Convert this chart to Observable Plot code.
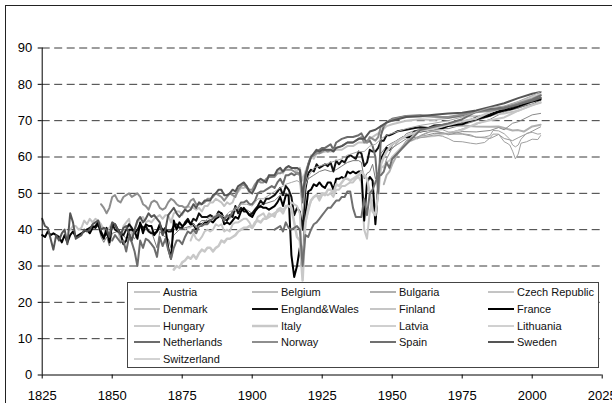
<!DOCTYPE html>
<html>
<head>
<meta charset="utf-8">
<script src="https://cdn.jsdelivr.net/npm/d3@7"></script>
<script src="https://cdn.jsdelivr.net/npm/@observablehq/plot@0.6"></script>
<style>
  html, body { margin: 0; padding: 0; background: #fff; }
  body { width: 612px; height: 403px; overflow: hidden; position: relative; font-family: "Liberation Sans", Arial, sans-serif; }
  #chart { position: absolute; left: 0; top: 0; }
  #frame { position: absolute; left: 5px; top: 5px; width: 700px; height: 500px; border: 1px solid #222; pointer-events: none; }
  #legend { position: absolute; left: 127px; top: 282px; width: 472px; height: 86px; box-sizing: border-box; border: 1px solid #444; background: #fff; }
  .entry { position: absolute; height: 16px; display: flex; align-items: center; font-size: 11px; color: #111; white-space: nowrap; }
  .entry svg { display: block; margin-right: 3px; }
</style>
</head>
<body>
<div id="chart"></div>
<div id="frame"></div>
<div id="legend"></div>
<script>
// ---- data: male period life expectancy (years) ----
const countries = ["Austria","Belgium","Bulgaria","Czech Republic","Denmark","England&Wales","Finland","France","Hungary","Italy","Latvia","Lithuania","Netherlands","Norway","Spain","Sweden","Switzerland"];

const austria = [[1947,57],[1948,59.5],[1949,61],[1950,62.5],[1952,63.5],[1955,65],[1960,65.6],[1965,66.5],[1970,66.5],[1975,67.7],[1980,69],[1985,70.4],[1990,72.4],[1995,73.4],[2000,75.1],[2003,75.9]];

const belgium = [[1841,40],[1843,40.5],[1845,41],[1846,38],[1847,36.5],[1848,38],[1849,35.5],[1850,39],[1852,39.5],[1854,38.5],[1855,37.5],[1856,39],[1858,37.5],[1860,40.5],[1862,40],[1864,39.5],[1866,35],[1867,39.5],[1868,38.5],[1870,37.5],[1871,35],[1872,38.5],[1874,40],[1876,40.5],[1878,41],[1880,41],[1882,42.5],[1884,42.5],[1886,43],[1888,44],[1890,42.5],[1892,43],[1894,45],[1896,46],[1898,45.5],[1900,44.5],[1902,46.5],[1904,47],[1906,47.5],[1908,48],[1910,49.5],[1912,49.5],[1913,50],[1914,null],[1919,52],[1920,54],[1922,55],[1924,56],[1926,56.5],[1928,56],[1930,56.5],[1932,57.5],[1934,58.5],[1936,59],[1938,59],[1939,58.5],[1940,54],[1941,55.5],[1942,56],[1943,58],[1944,54],[1945,56],[1946,61],[1948,63],[1950,63.9],[1955,65.5],[1960,67.5],[1965,67.8],[1970,67.8],[1975,68.8],[1980,70],[1985,71.2],[1990,72.7],[1995,73.5],[2000,74.6],[2003,75.6]];

const bulgaria = [[1947,52.5],[1948,55],[1949,56],[1950,58],[1952,61],[1955,64],[1957,66],[1960,67.8],[1963,68],[1965,68.8],[1968,68.7],[1970,68.6],[1975,68.7],[1980,68.4],[1985,68.3],[1988,68.4],[1990,68],[1993,67.3],[1995,67.4],[1997,67],[2000,68.4],[2003,68.9]];

const czech = [[1950,62.3],[1952,64],[1955,66.4],[1957,67],[1960,67.6],[1963,67.5],[1965,67.2],[1968,66.6],[1970,66.1],[1975,67],[1980,66.9],[1985,67.3],[1988,68.1],[1990,67.5],[1993,69.3],[1995,69.7],[2000,71.6],[2003,72]];

const denmark = [[1835,40],[1836,41],[1837,41],[1838,40],[1839,40.5],[1840,42.5],[1841,41.5],[1842,43],[1843,42],[1844,43],[1845,42.5],[1846,41.5],[1847,40],[1848,40],[1849,40.5],[1850,42],[1851,41],[1852,40],[1853,37],[1854,41],[1855,42],[1856,43],[1857,38.5],[1858,40],[1859,42],[1860,43],[1861,43.5],[1862,42],[1863,42.5],[1864,42],[1865,43],[1866,43.5],[1867,44],[1868,43],[1869,44],[1870,44],[1871,42],[1872,44.5],[1873,45],[1874,45],[1875,44],[1876,45.5],[1877,46.5],[1878,46],[1879,46],[1880,45.5],[1881,46],[1882,45],[1883,46.5],[1884,46.5],[1885,47.5],[1886,47.5],[1887,48.5],[1888,48],[1889,47.5],[1890,46.5],[1891,47.5],[1892,47],[1893,47.5],[1894,49.5],[1895,50.5],[1896,51.5],[1897,51.5],[1898,52],[1899,50],[1900,50.5],[1901,52],[1902,53],[1903,54],[1904,53.5],[1905,53.5],[1906,55],[1907,54.5],[1908,55],[1909,56],[1910,56.5],[1911,55.5],[1912,57],[1913,57.5],[1914,57],[1915,57],[1916,56],[1917,57],[1918,53.5],[1919,56],[1920,58],[1921,60.5],[1922,59.5],[1923,61],[1924,61],[1926,61.5],[1928,61.5],[1930,62],[1932,62],[1934,63],[1936,63],[1938,64],[1940,64],[1942,65],[1944,66],[1946,67],[1948,68.5],[1950,69],[1955,70],[1960,70.4],[1965,70.2],[1970,70.8],[1975,71.2],[1980,71.2],[1985,71.6],[1990,72],[1995,72.7],[2000,74.3],[2003,74.9]];

const englandWales = [[1841,40],[1842,40.5],[1843,41],[1844,40.5],[1845,41.5],[1846,39.5],[1847,38],[1848,39],[1849,37.5],[1850,41.5],[1851,40],[1852,39.5],[1853,39],[1854,38.5],[1855,40],[1856,41.5],[1857,40.5],[1858,39],[1859,40],[1860,41.5],[1861,40.5],[1862,41],[1863,39.5],[1864,39],[1865,39],[1866,39.5],[1867,41],[1868,40],[1869,40],[1870,39.5],[1871,39.5],[1872,41],[1873,41.5],[1874,40.5],[1875,40.5],[1876,42],[1877,43],[1878,41.5],[1879,43],[1880,42.5],[1881,44.5],[1882,43.5],[1883,43.5],[1884,43.5],[1885,44],[1886,43.5],[1887,43.5],[1888,45],[1889,44.5],[1890,43],[1891,42.5],[1892,44],[1893,43.5],[1894,46.5],[1895,44.5],[1896,46],[1897,45],[1898,45],[1899,44],[1900,44.5],[1901,45.5],[1902,46.5],[1903,48],[1904,47],[1905,48.5],[1906,48.5],[1907,49],[1908,49.5],[1909,50.5],[1910,51.5],[1911,49.5],[1912,52],[1913,51],[1914,49],[1915,44],[1916,46],[1917,45],[1918,40],[1919,51],[1920,55.5],[1921,56.5],[1922,56],[1923,58],[1924,57],[1925,57.5],[1926,58],[1927,57.5],[1928,58.5],[1929,56],[1930,59],[1931,58],[1932,59],[1933,58.5],[1934,60],[1935,60.5],[1936,60],[1937,59.5],[1938,61.5],[1939,61],[1940,57.5],[1941,58.5],[1942,62],[1943,61.5],[1944,61.5],[1945,62.5],[1946,64.5],[1947,64.5],[1948,66],[1949,66],[1950,66.3],[1952,67.1],[1955,67.5],[1958,68],[1960,68.2],[1963,68],[1965,68.6],[1968,68.8],[1970,69],[1973,69.3],[1975,69.7],[1978,70.2],[1980,70.8],[1983,71.5],[1985,71.8],[1988,72.6],[1990,73.1],[1993,73.8],[1995,74.2],[1998,74.9],[2000,75.5],[2003,76.2]];

const finland = [[1878,37],[1879,39],[1880,37.5],[1881,37],[1882,38],[1883,39.5],[1884,40],[1885,39.5],[1886,40],[1887,41.5],[1888,41],[1889,41.5],[1890,39.5],[1891,40],[1892,39.5],[1893,41.5],[1894,42],[1895,42],[1896,42.5],[1897,43],[1898,43],[1899,42],[1900,40.5],[1901,41.5],[1902,43.5],[1903,44],[1904,44.5],[1905,43],[1906,44.5],[1907,44],[1908,43.5],[1909,45.5],[1910,46],[1911,45.5],[1912,46],[1913,47],[1914,47.5],[1915,47],[1916,46.5],[1917,44.5],[1918,31],[1919,42],[1920,45],[1921,48],[1922,49],[1923,49.5],[1924,48],[1925,49.5],[1926,50],[1927,49.5],[1928,50],[1929,49],[1930,51],[1931,51],[1932,52],[1933,52],[1934,52.5],[1935,53],[1936,53],[1937,54],[1938,54.5],[1939,53],[1940,40],[1941,37.5],[1942,45],[1943,48],[1944,43],[1945,53],[1946,57],[1947,57.5],[1948,58.5],[1949,59],[1950,60],[1955,64],[1960,65.5],[1965,65.8],[1970,66.5],[1975,67.5],[1980,69.2],[1985,70.1],[1990,70.9],[1995,72.8],[2000,74.2],[2003,75.1]];

const france = [[1825,38.5],[1826,38],[1827,39.5],[1828,38.5],[1829,39],[1830,38.5],[1831,38],[1832,36.5],[1833,38.5],[1834,36.5],[1835,38.5],[1836,39.5],[1837,38],[1838,38.5],[1839,39],[1840,39.5],[1841,40],[1842,39],[1843,40.5],[1844,41],[1845,42],[1846,39],[1847,37.5],[1848,40.5],[1849,36.5],[1850,41.5],[1851,41.5],[1852,40],[1853,39],[1854,36],[1855,37],[1856,40],[1857,40],[1858,39.5],[1859,37.5],[1860,42],[1861,39],[1862,41.5],[1863,41],[1864,41],[1865,38.5],[1866,39.5],[1867,41.5],[1868,39.5],[1869,40.5],[1870,35],[1871,32],[1872,42.5],[1873,40],[1874,42],[1875,41],[1876,41.5],[1877,42.5],[1878,41.5],[1879,41.5],[1880,40],[1881,41.5],[1882,41.5],[1883,42],[1884,42],[1885,42.5],[1886,42],[1887,43],[1888,43.5],[1889,44.5],[1890,41.5],[1891,42],[1892,41.5],[1893,42.5],[1894,43.5],[1895,43],[1896,45],[1897,46],[1898,45],[1899,44],[1900,43.5],[1901,45],[1902,46],[1903,46.5],[1904,46],[1905,46],[1906,45.5],[1907,46],[1908,46.5],[1909,47.5],[1910,49],[1911,46.5],[1912,49.5],[1913,49.5],[1914,33],[1915,27],[1916,30],[1917,35],[1918,28],[1919,44],[1920,50.5],[1921,51],[1922,52.5],[1923,52],[1924,53],[1925,52],[1926,51.5],[1927,53],[1928,53],[1929,51],[1930,54],[1931,54],[1932,54.5],[1933,54],[1934,56],[1935,55.5],[1936,56],[1937,55.5],[1938,56],[1939,56],[1940,42.5],[1941,53],[1942,54.5],[1943,53.5],[1944,41.5],[1945,52],[1946,59.5],[1947,61],[1948,62.5],[1949,62],[1950,63.5],[1952,64.5],[1954,65.5],[1956,65.5],[1958,67],[1960,67],[1962,67.3],[1965,67.8],[1968,68],[1970,68.5],[1972,68.8],[1975,69],[1978,70],[1980,70.4],[1983,71],[1985,71.4],[1988,72.4],[1990,72.8],[1993,73.3],[1995,73.9],[1998,74.8],[2000,75.3],[2003,75.8]];

const hungary = [[1950,59.3],[1952,61],[1955,64.5],[1957,64.5],[1960,65.9],[1963,66.9],[1965,67],[1968,66.7],[1970,66.3],[1975,66.3],[1980,65.5],[1985,65.1],[1988,66.2],[1990,65.1],[1993,64.5],[1995,65.3],[2000,67.1],[2003,68.3]];

const italy = [[1872,29],[1873,30],[1874,29.5],[1875,31],[1876,31.5],[1877,32.5],[1878,32],[1879,33],[1880,32],[1881,33.5],[1882,34.5],[1883,34],[1884,35],[1885,35],[1886,34],[1887,35],[1888,35.5],[1889,37],[1890,36.5],[1891,37.5],[1892,37.5],[1893,38],[1894,38.5],[1895,39.5],[1896,40],[1897,40.5],[1898,40.5],[1899,41],[1900,40.5],[1901,42],[1902,42.5],[1903,42],[1904,43],[1905,43],[1906,43.5],[1907,44],[1908,44.5],[1909,45],[1910,45.5],[1911,44.5],[1912,46.5],[1913,46.5],[1914,46],[1915,42],[1916,38],[1917,37],[1918,26],[1919,42],[1920,46],[1921,48],[1922,49],[1923,49.5],[1924,49],[1925,50],[1926,49.5],[1927,51],[1928,51],[1929,50],[1930,52.5],[1931,52],[1932,53],[1933,54],[1934,54],[1935,53.5],[1936,54],[1937,54.5],[1938,55],[1939,56],[1940,55],[1941,54],[1942,50],[1943,45],[1944,44],[1945,50],[1946,58],[1947,60],[1948,61.5],[1949,62.5],[1950,63.5],[1955,65.8],[1960,67.2],[1965,67.8],[1970,68.9],[1975,69.8],[1980,70.6],[1985,72.4],[1990,73.8],[1995,74.9],[2000,76.5],[2003,77.2]];

const latvia = [[1959,65.2],[1960,65.3],[1962,65.5],[1965,66.1],[1968,65.7],[1970,65.1],[1972,64.3],[1975,64.2],[1978,63.8],[1980,63.6],[1983,64],[1985,65.3],[1986,66.3],[1988,66.3],[1990,64.2],[1991,63.8],[1992,63.3],[1993,61.6],[1994,59.5],[1995,60.8],[1996,63.8],[1998,64.2],[2000,64.9],[2002,64.8],[2003,65.9]];

const lithuania = [[1959,65],[1960,65.7],[1962,66.4],[1965,67.4],[1968,67.5],[1970,66.9],[1972,66.8],[1975,66.4],[1978,66.1],[1980,65.4],[1983,65.5],[1985,65.9],[1986,67.3],[1988,67.2],[1990,66.4],[1992,64.9],[1993,63.3],[1994,62.8],[1995,63.3],[1996,64.9],[1998,66.5],[2000,66.8],[2002,66.3],[2003,66.4]];

const netherlands = [[1850,37],[1851,38.5],[1852,37.5],[1853,36.5],[1854,37],[1855,34],[1856,38],[1857,36.5],[1858,34],[1859,30],[1860,37],[1861,35],[1862,37.5],[1863,37],[1864,36],[1865,35],[1866,32.5],[1867,38],[1868,35.5],[1869,37.5],[1870,34.5],[1871,32],[1872,35],[1873,37],[1874,37],[1875,36],[1876,38],[1877,39.5],[1878,39],[1879,40],[1880,39],[1881,41],[1882,41],[1883,41.5],[1884,41.5],[1885,42.5],[1886,43],[1887,43.5],[1888,44],[1889,43.5],[1890,42.5],[1891,44],[1892,43.5],[1893,45],[1894,46],[1895,46],[1896,47.5],[1897,47.5],[1898,48],[1899,47],[1900,47],[1901,48],[1902,50],[1903,50.5],[1904,50.5],[1905,51],[1906,51.5],[1907,52],[1908,51.5],[1909,53],[1910,54],[1911,52.5],[1912,55],[1913,55],[1914,55.5],[1915,55],[1916,55.5],[1917,55.5],[1918,47.5],[1919,54],[1920,58],[1921,60],[1922,60.5],[1923,61.5],[1924,62],[1925,62.5],[1926,62.5],[1927,63],[1928,63.5],[1929,62],[1930,64],[1932,65],[1934,65.5],[1936,65.5],[1938,66],[1939,66.5],[1940,65],[1941,64],[1942,64.5],[1943,63],[1944,60],[1945,50],[1946,66],[1947,68.5],[1948,69.5],[1949,70],[1950,70.5],[1955,71.3],[1960,71.5],[1965,71.2],[1970,70.8],[1975,71.5],[1980,72.6],[1985,73.1],[1990,73.8],[1995,74.5],[2000,75.5],[2003,76.3]];

const norway = [[1846,47],[1847,46],[1848,44.5],[1849,46],[1850,49],[1851,49.5],[1852,48],[1853,47.5],[1854,49],[1855,49.5],[1856,50],[1857,49],[1858,49.5],[1859,50],[1860,49],[1861,47],[1862,46.5],[1863,45.5],[1864,47.5],[1865,48],[1866,47.5],[1867,46],[1868,45.5],[1869,46],[1870,47.5],[1871,48.5],[1872,48],[1873,47],[1874,46.5],[1875,46.5],[1876,46],[1877,46.5],[1878,48],[1879,48.5],[1880,47],[1881,47],[1882,47],[1883,47.5],[1884,48.5],[1885,48.5],[1886,49],[1887,50],[1888,49.5],[1889,49],[1890,48],[1891,49],[1892,50],[1893,49.5],[1894,49],[1895,51],[1896,52],[1897,52.5],[1898,51.5],[1899,51],[1900,51],[1901,52.5],[1902,53.5],[1903,53],[1904,53],[1905,54],[1906,54.5],[1907,54.5],[1908,54.5],[1909,55.5],[1910,55.5],[1911,56],[1912,56.5],[1913,56.5],[1914,56.5],[1915,56],[1916,55.5],[1917,55],[1918,50],[1919,54.5],[1920,58],[1921,60],[1922,60.5],[1923,61],[1924,61],[1925,61.5],[1926,62],[1927,61.5],[1928,62],[1929,62],[1930,62.5],[1932,63],[1934,64],[1936,64],[1938,65],[1939,65.5],[1940,64],[1941,64],[1942,65.5],[1943,65],[1944,64.5],[1945,65.5],[1946,68.5],[1947,68.5],[1948,69.5],[1949,70],[1950,70.3],[1955,71.2],[1960,71.3],[1965,71.1],[1970,71],[1975,71.7],[1980,72.3],[1985,72.7],[1990,73.4],[1995,74.8],[2000,76],[2003,77]];

const spain = [[1908,40],[1909,40.5],[1910,41],[1911,39.5],[1912,42],[1913,40.5],[1914,40],[1915,40.5],[1916,41],[1917,40],[1918,30],[1919,38.5],[1920,38],[1921,40],[1922,41.5],[1923,42],[1924,43],[1925,44],[1926,45],[1927,46],[1928,46],[1929,47],[1930,48],[1931,48],[1932,49],[1933,49],[1934,50.5],[1935,50.5],[1936,46],[1937,43.5],[1938,43.5],[1939,43.5],[1940,48.5],[1941,44],[1942,50],[1943,51],[1944,53],[1945,55],[1946,55],[1947,56],[1948,58.5],[1949,57],[1950,59.5],[1955,63.5],[1960,67.4],[1965,68.3],[1970,69.2],[1975,70.4],[1980,72.5],[1985,73.2],[1990,73.4],[1995,74.4],[2000,75.8],[2003,76.9]];

const sweden = [[1825,43],[1826,41],[1827,40.5],[1828,37.5],[1829,34.5],[1830,38.5],[1831,37],[1832,39],[1833,40],[1834,36],[1835,44.5],[1836,42],[1837,37.5],[1838,38],[1839,38.5],[1840,40],[1841,39.5],[1842,40],[1843,41.5],[1844,42],[1845,42.5],[1846,40],[1847,40.5],[1848,40],[1849,38],[1850,42],[1851,41.5],[1852,40],[1853,38.5],[1854,40.5],[1855,41],[1856,39],[1857,37],[1858,40],[1859,42.5],[1860,43.5],[1861,42],[1862,43],[1863,44.5],[1864,43.5],[1865,44],[1866,43],[1867,42],[1868,38.5],[1869,40],[1870,44],[1871,45],[1872,46],[1873,44.5],[1874,43.5],[1875,44.5],[1876,45.5],[1877,45],[1878,45.5],[1879,47],[1880,46],[1881,47.5],[1882,47],[1883,48],[1884,48],[1885,48],[1886,49.5],[1887,50],[1888,51],[1889,51],[1890,49.5],[1891,49.5],[1892,50],[1893,51],[1894,50.5],[1895,52],[1896,52.5],[1897,53],[1898,52],[1899,50.5],[1900,50],[1901,51.5],[1902,53.5],[1903,54],[1904,53.5],[1905,53],[1906,55],[1907,55],[1908,55],[1909,56.5],[1910,57],[1911,56],[1912,57],[1913,57.5],[1914,57],[1915,57],[1916,57],[1917,56.5],[1918,49],[1919,55],[1920,57.5],[1921,60],[1922,61],[1923,62],[1924,61.5],[1925,62],[1926,62],[1927,62],[1928,62],[1929,61.5],[1930,62.5],[1932,63],[1934,64],[1936,64],[1938,65],[1940,65],[1942,67],[1944,67.5],[1946,68.5],[1948,69.5],[1950,70],[1955,71],[1960,71.2],[1965,71.6],[1970,72],[1975,72.2],[1980,72.8],[1985,73.8],[1990,74.8],[1995,76.2],[2000,77.4],[2003,77.9]];

const switzerland = [[1876,40],[1877,40.5],[1878,40.5],[1879,41.5],[1880,40.5],[1882,41.5],[1884,43],[1886,43.5],[1888,44.5],[1890,43.5],[1892,45],[1894,45.5],[1896,47],[1898,47],[1900,46.5],[1902,48.5],[1904,48.5],[1906,49.5],[1908,50.5],[1910,51.5],[1912,52.5],[1914,53],[1916,53.5],[1917,53],[1918,44],[1919,52],[1920,54.5],[1922,57],[1924,57.5],[1926,58],[1928,58.5],[1930,59],[1932,59.5],[1934,60.5],[1936,61],[1938,61.5],[1940,61.5],[1942,63],[1944,63.5],[1946,65],[1948,66],[1950,66.5],[1955,67.8],[1960,68.7],[1965,69.3],[1970,70],[1975,71],[1980,72.4],[1985,73.6],[1990,74],[1995,75.3],[2000,76.9],[2003,78]];

const seriesData = [austria, belgium, bulgaria, czech, denmark, englandWales, finland, france, hungary, italy, latvia, lithuania, netherlands, norway, spain, sweden, switzerland];

const xTicks = [1825, 1850, 1875, 1900, 1925, 1950, 1975, 2000, 2025];
const yTicks = [0, 10, 20, 30, 40, 50, 60, 70, 80, 90];

// ---- styles (kept apart from the data) ----
const strokes = ["#8c8c8c","#7a7a7a","#b0b0b0","#8a8a8a","#c2c2c2","#111111","#c6c6c6","#000000","#9a9a9a","#c8c8c8","#a0a0a0","#a2a2a2","#6c6c6c","#8e8e8e","#707070","#555555","#a6a6a6"];
const widths  = [1, 1, 2, 1, 2, 2, 2, 2, 1, 2.5, 1, 1, 2, 2, 2, 2, 1];

const rows = countries.flatMap((c, i) => seriesData[i].map(([year, value]) => ({country: c, year, value})));

const lineMarks = countries.map((c, i) =>
  Plot.line(rows.filter(d => d.country === c), {
    x: "year", y: "value", stroke: strokes[i], strokeWidth: widths[i], strokeLinejoin: "round"
  })
);

const chart = Plot.plot({
  width: 612,
  height: 403,
  marginLeft: 41.7,
  marginRight: 10.3,
  marginTop: 47.5,
  marginBottom: 28.5,
  style: {fontFamily: "'Liberation Sans', Arial, sans-serif", background: "transparent", color: "#000"},
  x: {domain: [xTicks[0], xTicks[xTicks.length - 1]], label: null},
  y: {domain: [yTicks[0], yTicks[yTicks.length - 1]], label: null},
  marks: [
    Plot.gridY(yTicks.slice(1), {stroke: "#3a3a3a", strokeOpacity: 1, strokeDasharray: "8,4.5"}),
    ...lineMarks,
    Plot.ruleX([xTicks[0]], {stroke: "#000", strokeWidth: 1}),
    Plot.ruleY([yTicks[0]], {stroke: "#000", strokeWidth: 1}),
    Plot.axisX(xTicks, {tickSize: 4, tickPadding: 11.5, fontSize: 13, tickFormat: d => String(d), label: null, stroke: "#000"}),
    Plot.axisY(yTicks, {tickSize: 4, tickPadding: 6, fontSize: 13, tickFormat: d => String(d), label: null, stroke: "#000"})
  ]
});
document.getElementById("chart").appendChild(chart);

// ---- legend inside the plot area ----
const legend = document.getElementById("legend");
countries.forEach((c, i) => {
  const col = i % 4, row = Math.floor(i / 4);
  const e = document.createElement("div");
  e.className = "entry";
  e.style.left = (6 + col * 118) + "px";
  e.style.top = (1 + row * 16.8) + "px";
  e.innerHTML = `<svg width="26" height="16"><line x1="0" x2="26" y1="8" y2="8" stroke="${strokes[i]}" stroke-width="${widths[i]}"/></svg><span>${c}</span>`;
  legend.appendChild(e);
});
</script>
</body>
</html>
